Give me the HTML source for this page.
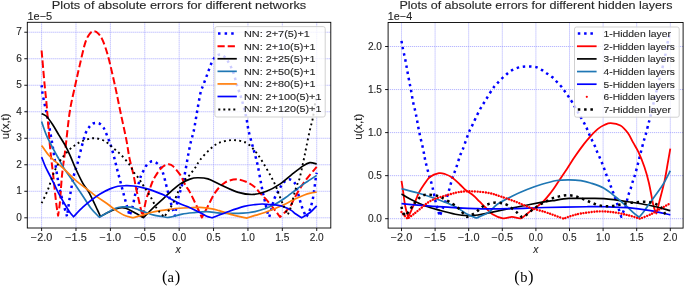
<!DOCTYPE html>
<html><head><meta charset="utf-8"><style>
html,body{margin:0;padding:0;background:#fff;width:685px;height:287px;overflow:hidden}
svg{display:block;will-change:transform}
</style></head><body>
<svg width="685" height="287" viewBox="0 0 685 287" font-family="Liberation Sans, sans-serif">
<clipPath id="cl"><rect x="27.30" y="22.30" width="303.50" height="205.70"/></clipPath>
<line x1="41.60" y1="22.30" x2="41.60" y2="228.00" stroke="#9c9cff" stroke-width="0.8" stroke-dasharray="1.1 0.9"/>
<line x1="75.99" y1="22.30" x2="75.99" y2="228.00" stroke="#9c9cff" stroke-width="0.8" stroke-dasharray="1.1 0.9"/>
<line x1="110.38" y1="22.30" x2="110.38" y2="228.00" stroke="#9c9cff" stroke-width="0.8" stroke-dasharray="1.1 0.9"/>
<line x1="144.77" y1="22.30" x2="144.77" y2="228.00" stroke="#9c9cff" stroke-width="0.8" stroke-dasharray="1.1 0.9"/>
<line x1="179.16" y1="22.30" x2="179.16" y2="228.00" stroke="#9c9cff" stroke-width="0.8" stroke-dasharray="1.1 0.9"/>
<line x1="213.55" y1="22.30" x2="213.55" y2="228.00" stroke="#9c9cff" stroke-width="0.8" stroke-dasharray="1.1 0.9"/>
<line x1="247.94" y1="22.30" x2="247.94" y2="228.00" stroke="#9c9cff" stroke-width="0.8" stroke-dasharray="1.1 0.9"/>
<line x1="282.33" y1="22.30" x2="282.33" y2="228.00" stroke="#9c9cff" stroke-width="0.8" stroke-dasharray="1.1 0.9"/>
<line x1="316.72" y1="22.30" x2="316.72" y2="228.00" stroke="#9c9cff" stroke-width="0.8" stroke-dasharray="1.1 0.9"/>
<line x1="27.30" y1="217.80" x2="330.80" y2="217.80" stroke="#9c9cff" stroke-width="0.8" stroke-dasharray="1.1 0.9"/>
<line x1="27.30" y1="191.29" x2="330.80" y2="191.29" stroke="#9c9cff" stroke-width="0.8" stroke-dasharray="1.1 0.9"/>
<line x1="27.30" y1="164.78" x2="330.80" y2="164.78" stroke="#9c9cff" stroke-width="0.8" stroke-dasharray="1.1 0.9"/>
<line x1="27.30" y1="138.27" x2="330.80" y2="138.27" stroke="#9c9cff" stroke-width="0.8" stroke-dasharray="1.1 0.9"/>
<line x1="27.30" y1="111.76" x2="330.80" y2="111.76" stroke="#9c9cff" stroke-width="0.8" stroke-dasharray="1.1 0.9"/>
<line x1="27.30" y1="85.25" x2="330.80" y2="85.25" stroke="#9c9cff" stroke-width="0.8" stroke-dasharray="1.1 0.9"/>
<line x1="27.30" y1="58.74" x2="330.80" y2="58.74" stroke="#9c9cff" stroke-width="0.8" stroke-dasharray="1.1 0.9"/>
<line x1="27.30" y1="32.23" x2="330.80" y2="32.23" stroke="#9c9cff" stroke-width="0.8" stroke-dasharray="1.1 0.9"/>
<clipPath id="cr"><rect x="388.10" y="22.50" width="295.00" height="205.60"/></clipPath>
<line x1="401.50" y1="22.50" x2="401.50" y2="228.10" stroke="#9c9cff" stroke-width="0.8" stroke-dasharray="1.1 0.9"/>
<line x1="435.10" y1="22.50" x2="435.10" y2="228.10" stroke="#9c9cff" stroke-width="0.8" stroke-dasharray="1.1 0.9"/>
<line x1="468.70" y1="22.50" x2="468.70" y2="228.10" stroke="#9c9cff" stroke-width="0.8" stroke-dasharray="1.1 0.9"/>
<line x1="502.30" y1="22.50" x2="502.30" y2="228.10" stroke="#9c9cff" stroke-width="0.8" stroke-dasharray="1.1 0.9"/>
<line x1="535.90" y1="22.50" x2="535.90" y2="228.10" stroke="#9c9cff" stroke-width="0.8" stroke-dasharray="1.1 0.9"/>
<line x1="569.50" y1="22.50" x2="569.50" y2="228.10" stroke="#9c9cff" stroke-width="0.8" stroke-dasharray="1.1 0.9"/>
<line x1="603.10" y1="22.50" x2="603.10" y2="228.10" stroke="#9c9cff" stroke-width="0.8" stroke-dasharray="1.1 0.9"/>
<line x1="636.70" y1="22.50" x2="636.70" y2="228.10" stroke="#9c9cff" stroke-width="0.8" stroke-dasharray="1.1 0.9"/>
<line x1="670.30" y1="22.50" x2="670.30" y2="228.10" stroke="#9c9cff" stroke-width="0.8" stroke-dasharray="1.1 0.9"/>
<line x1="388.10" y1="218.70" x2="683.10" y2="218.70" stroke="#9c9cff" stroke-width="0.8" stroke-dasharray="1.1 0.9"/>
<line x1="388.10" y1="175.65" x2="683.10" y2="175.65" stroke="#9c9cff" stroke-width="0.8" stroke-dasharray="1.1 0.9"/>
<line x1="388.10" y1="132.60" x2="683.10" y2="132.60" stroke="#9c9cff" stroke-width="0.8" stroke-dasharray="1.1 0.9"/>
<line x1="388.10" y1="89.55" x2="683.10" y2="89.55" stroke="#9c9cff" stroke-width="0.8" stroke-dasharray="1.1 0.9"/>
<line x1="388.10" y1="46.50" x2="683.10" y2="46.50" stroke="#9c9cff" stroke-width="0.8" stroke-dasharray="1.1 0.9"/>
<g clip-path="url(#cl)" fill="none" stroke-linejoin="round">
<path d="M41.60,85.25 C41.83,87.02 41.92,90.07 42.98,95.85 C44.03,101.64 46.55,113.00 47.93,119.98 C49.30,126.96 50.34,132.70 51.23,137.74 C52.12,142.78 52.28,143.79 53.29,150.20 C54.30,156.61 56.14,169.38 57.28,176.18 C58.43,182.98 58.97,185.77 60.17,191.02 C61.37,196.28 63.36,203.48 64.50,207.73 C65.65,211.97 66.62,215.02 67.05,216.47 L67.05,216.47 C67.51,213.25 68.97,202.42 69.80,197.12 C70.63,191.82 71.28,188.46 72.00,184.66 C72.72,180.86 73.22,177.86 74.13,174.32 C75.05,170.79 76.39,167.48 77.50,163.45 C78.62,159.43 79.52,155.06 80.80,150.20 C82.09,145.34 83.72,138.27 85.21,134.29 C86.70,130.32 88.42,128.15 89.75,126.34 C91.08,124.53 92.04,124.00 93.19,123.42 C94.33,122.85 95.48,122.81 96.62,122.89 C97.77,122.98 98.92,123.16 100.06,123.95 C101.21,124.75 102.49,126.12 103.50,127.67 C104.51,129.21 105.23,131.16 106.12,133.23 C107.00,135.31 107.98,138.00 108.80,140.13 C109.61,142.25 110.09,143.04 111.00,145.96 C111.90,148.87 113.21,153.73 114.23,157.62 C115.25,161.51 116.10,165.31 117.12,169.29 C118.14,173.26 119.30,177.46 120.35,181.48 C121.41,185.50 122.41,189.48 123.45,193.41 C124.49,197.34 125.58,201.36 126.61,205.08 C127.64,208.79 129.13,213.91 129.64,215.68 L129.64,215.68 C130.18,214.00 131.93,209.23 132.87,205.61 C133.81,201.98 134.44,197.21 135.28,193.94 C136.12,190.67 136.94,188.99 137.89,185.99 C138.84,182.98 139.99,178.57 140.99,175.91 C141.98,173.26 142.89,171.94 143.88,170.08 C144.86,168.23 145.50,166.24 146.90,164.78 C148.30,163.32 150.44,161.47 152.27,161.33 C154.09,161.20 156.30,162.66 157.84,163.98 C159.37,165.31 160.51,167.43 161.48,169.29 C162.46,171.14 162.82,172.20 163.68,175.12 C164.54,178.03 165.36,181.83 166.64,186.78 C167.93,191.73 170.21,200.61 171.39,204.81 C172.57,209.01 173.14,210.16 173.73,211.97 C174.31,213.78 174.70,215.06 174.90,215.68 L174.90,215.68 C175.38,213.07 176.78,204.50 177.78,200.04 C178.79,195.58 179.92,192.57 180.95,188.90 C181.98,185.24 183.06,182.06 183.97,178.04 C184.89,174.01 185.67,169.07 186.45,164.78 C187.23,160.49 187.87,156.34 188.65,152.32 C189.43,148.30 190.26,144.32 191.13,140.66 C192.00,136.99 192.86,135.31 193.88,130.32 C194.90,125.32 196.14,116.97 197.25,110.70 C198.36,104.43 199.55,96.91 200.55,92.67 C201.55,88.43 202.10,88.34 203.23,85.25 C204.37,82.16 205.94,77.92 207.36,74.12 C208.78,70.32 210.39,65.37 211.76,62.45 C213.14,59.54 214.11,57.94 215.61,56.62 C217.12,55.29 219.05,54.23 220.77,54.50 C222.49,54.76 224.53,56.71 225.93,58.21 C227.33,59.71 227.96,61.21 229.16,63.51 C230.37,65.81 231.80,68.24 233.15,72.00 C234.50,75.75 235.85,81.45 237.28,86.05 C238.71,90.64 240.25,94.31 241.75,99.57 C243.25,104.82 245.17,112.47 246.29,117.59 C247.41,122.72 247.55,125.99 248.49,130.32 C249.43,134.65 250.90,139.73 251.93,143.57 C252.96,147.42 253.74,149.85 254.68,153.38 C255.62,156.92 256.63,160.45 257.57,164.78 C258.51,169.11 259.53,175.16 260.32,179.36 C261.11,183.56 261.57,186.39 262.32,189.96 C263.06,193.54 263.87,196.86 264.79,200.83 C265.71,204.81 267.07,211.13 267.82,213.82 C268.56,216.52 269.02,216.47 269.26,217.00 L269.26,217.00 C269.72,215.28 271.14,209.76 272.01,206.67 C272.88,203.57 273.56,200.83 274.49,198.45 C275.42,196.06 276.56,194.29 277.58,192.35 C278.60,190.41 279.66,188.42 280.61,186.78 C281.56,185.15 281.91,183.78 283.29,182.54 C284.68,181.30 287.05,179.32 288.93,179.36 C290.81,179.40 293.09,180.60 294.57,182.81 C296.05,185.02 296.69,188.95 297.81,192.62 C298.92,196.28 300.20,201.54 301.24,204.81 C302.29,208.08 303.20,210.20 304.06,212.23 C304.92,214.27 306.01,216.21 306.40,217.00 L306.40,217.00 C306.98,215.81 308.81,212.67 309.84,209.85 C310.87,207.02 311.81,203.75 312.59,200.04 C313.37,196.33 313.95,191.60 314.52,187.58 C315.09,183.56 315.67,178.39 316.03,175.91 C316.40,173.44 316.61,173.26 316.72,172.73" stroke="#0000ff" stroke-width="2.5" stroke-dasharray="2.5 3.75" stroke-linecap="butt"/>
<path d="M41.60,50.52 C42.10,56.27 43.76,75.57 44.63,84.98 C45.50,94.40 45.91,96.47 46.83,106.99 C47.74,117.50 49.06,136.68 50.13,148.08 C51.19,159.48 52.24,166.41 53.22,175.38 C54.21,184.35 55.23,195.18 56.04,201.89 C56.86,208.61 57.76,213.38 58.11,215.68 L58.11,215.68 C58.42,213.38 59.30,208.79 59.96,201.89 C60.63,195.00 61.19,183.16 62.10,174.32 C63.00,165.49 64.11,159.35 65.40,148.87 C66.68,138.40 68.15,122.14 69.80,111.49 C71.45,100.85 73.65,92.67 75.30,84.98 C76.95,77.30 78.05,72.39 79.70,65.37 C81.35,58.34 83.53,48.09 85.21,42.83 C86.88,37.58 88.28,35.76 89.75,33.82 C91.21,31.88 92.58,31.21 94.01,31.17 C95.44,31.13 96.88,31.96 98.34,33.56 C99.81,35.15 101.15,36.78 102.81,40.71 C104.48,44.65 106.31,49.77 108.32,57.15 C110.32,64.53 112.84,75.93 114.85,84.98 C116.86,94.04 118.43,102.30 120.35,111.49 C122.28,120.69 124.90,132.44 126.41,140.13 C127.91,147.81 128.17,151.79 129.36,157.62 C130.56,163.45 132.47,170.13 133.56,175.12 C134.65,180.11 135.12,183.82 135.90,187.58 C136.68,191.33 137.46,194.25 138.24,197.65 C139.02,201.05 139.83,204.77 140.57,207.99 C141.32,211.22 142.35,215.50 142.71,217.00 L142.71,217.00 C143.27,214.18 144.99,204.41 146.08,200.04 C147.17,195.66 148.20,193.76 149.24,190.76 C150.28,187.76 151.29,184.49 152.34,182.01 C153.38,179.54 154.12,178.12 155.50,175.91 C156.88,173.71 159.10,170.48 160.59,168.76 C162.08,167.03 163.07,166.33 164.44,165.58 C165.82,164.82 167.38,164.12 168.84,164.25 C170.31,164.38 171.28,164.51 173.24,166.37 C175.21,168.23 178.85,172.78 180.60,175.38 C182.36,177.99 182.73,179.98 183.77,182.01 C184.81,184.04 185.83,185.86 186.86,187.58 C187.90,189.30 188.19,188.99 189.96,192.35 C191.72,195.71 195.47,203.53 197.46,207.73 C199.44,211.92 201.12,215.90 201.86,217.53 L201.86,217.53 C202.82,215.72 205.40,210.86 207.63,206.67 C209.87,202.47 212.39,196.37 215.27,192.35 C218.15,188.33 221.29,184.71 224.90,182.54 C228.51,180.38 233.09,179.36 236.94,179.36 C240.78,179.36 244.93,181.22 247.94,182.54 C250.95,183.87 253.03,185.59 255.02,187.31 C257.02,189.04 258.28,191.11 259.91,192.88 C261.54,194.65 262.96,195.89 264.79,197.92 C266.63,199.95 269.09,202.87 270.91,205.08 C272.74,207.28 274.21,209.18 275.73,211.17 C277.24,213.16 279.28,216.03 279.99,217.00 L279.99,217.00 C280.91,216.12 283.98,213.25 285.49,211.70 C287.01,210.16 288.05,209.01 289.07,207.73 C290.09,206.44 290.70,205.65 291.62,204.01 C292.53,202.38 293.24,200.39 294.57,197.92 C295.90,195.44 297.47,192.48 299.59,189.17 C301.71,185.86 304.44,181.75 307.30,178.04 C310.15,174.32 315.15,168.76 316.72,166.90" stroke="#ff0000" stroke-width="2.0" stroke-dasharray="7.2 3.0"/>
<path d="M41.60,113.62 C42.40,114.06 44.58,114.46 46.41,116.27 C48.25,118.08 50.52,121.35 52.60,124.48 C54.69,127.62 56.83,131.60 58.93,135.09 C61.03,138.58 63.29,141.94 65.19,145.43 C67.09,148.92 68.62,152.19 70.35,156.03 C72.08,159.88 73.49,163.94 75.58,168.49 C77.66,173.04 80.62,179.32 82.87,183.34 C85.11,187.36 86.65,188.24 89.06,192.62 C91.47,196.99 95.42,205.61 97.31,209.58 C99.20,213.56 99.89,215.33 100.41,216.47 L100.41,216.47 C102.07,215.59 107.20,212.59 110.38,211.17 C113.56,209.76 116.90,208.48 119.46,207.99 C122.02,207.51 123.37,207.59 125.72,208.26 C128.07,208.92 131.33,210.82 133.56,211.97 C135.78,213.12 137.42,214.22 139.06,215.15 C140.70,216.08 142.67,217.14 143.39,217.53 L143.39,217.53 C144.11,216.83 145.64,215.28 147.66,213.29 C149.68,211.31 152.62,208.30 155.50,205.61 C158.38,202.91 162.06,199.73 164.92,197.12 C167.79,194.52 170.08,192.22 172.69,189.96 C175.31,187.71 177.73,185.41 180.60,183.60 C183.48,181.79 187.15,180.07 189.96,179.10 C192.77,178.12 194.45,177.81 197.46,177.77 C200.46,177.73 204.15,177.68 207.98,178.83 C211.81,179.98 215.37,182.41 220.43,184.66 C225.48,186.92 232.81,190.72 238.31,192.35 C243.81,193.99 248.74,194.65 253.44,194.47 C258.14,194.29 262.04,193.06 266.51,191.29 C270.98,189.52 276.07,186.65 280.27,183.87 C284.46,181.08 287.87,177.59 291.68,174.59 C295.50,171.58 300.14,167.83 303.17,165.84 C306.20,163.85 307.58,162.97 309.84,162.66 C312.10,162.35 315.57,163.76 316.72,163.98" stroke="#000000" stroke-width="1.7"/>
<path d="M41.60,121.57 C42.40,123.82 44.58,130.76 46.41,135.09 C48.25,139.42 50.52,143.53 52.60,147.55 C54.69,151.57 57.02,155.72 58.93,159.21 C60.85,162.70 61.82,164.91 64.09,168.49 C66.36,172.07 69.65,176.44 72.55,180.69 C75.45,184.93 78.40,189.30 81.49,193.94 C84.59,198.58 88.14,204.63 91.12,208.52 C94.10,212.41 98.00,215.81 99.38,217.27 L99.38,217.27 C101.21,216.21 107.56,212.45 110.38,210.91 C113.20,209.36 114.27,208.65 116.30,207.99 C118.32,207.33 120.20,207.06 122.55,206.93 C124.90,206.80 127.78,206.75 130.39,207.20 C133.01,207.64 135.62,208.70 138.24,209.58 C140.85,210.47 143.46,211.57 146.08,212.50 C148.69,213.43 151.30,214.49 153.92,215.15 C156.53,215.81 159.50,216.08 161.76,216.47 C164.02,216.87 166.52,217.36 167.47,217.53 L167.47,217.53 C168.60,217.31 171.82,216.78 174.28,216.21 C176.73,215.64 179.08,214.66 182.19,214.09 C185.29,213.51 188.84,213.16 192.92,212.76 C197.00,212.37 202.09,211.66 206.67,211.70 C211.26,211.75 215.15,212.76 220.43,213.03 C225.70,213.29 233.73,213.34 238.31,213.29 C242.90,213.25 245.15,213.03 247.94,212.76 C250.73,212.50 252.22,212.37 255.02,211.70 C257.83,211.04 261.55,209.98 264.79,208.79 C268.04,207.59 271.23,206.27 274.49,204.55 C277.74,202.82 280.91,200.79 284.32,198.45 C287.74,196.11 291.80,192.88 294.99,190.49 C298.17,188.11 300.97,185.90 303.45,184.13 C305.92,182.36 307.63,181.35 309.84,179.89 C312.05,178.43 315.57,176.14 316.72,175.38" stroke="#1f77b4" stroke-width="1.7"/>
<path d="M41.60,145.43 C42.75,147.02 45.96,152.10 48.48,154.97 C51.00,157.84 53.95,160.14 56.73,162.66 C59.52,165.18 61.98,167.08 65.19,170.08 C68.40,173.09 72.59,177.68 75.99,180.69 C79.39,183.69 82.18,185.46 85.62,188.11 C89.06,190.76 93.14,194.07 96.62,196.59 C100.11,199.11 103.48,201.05 106.53,203.22 C109.58,205.38 111.98,207.59 114.92,209.58 C117.85,211.57 121.14,213.78 124.14,215.15 C127.13,216.52 131.42,217.36 132.87,217.80 L132.87,217.80 C134.29,217.40 138.41,216.30 141.40,215.41 C144.39,214.53 147.69,213.29 150.82,212.50 C153.95,211.70 157.06,211.17 160.18,210.64 C163.29,210.11 166.37,209.71 169.53,209.32 C172.69,208.92 175.76,208.52 179.16,208.26 C182.56,207.99 186.52,207.86 189.96,207.73 C193.40,207.59 196.11,207.28 199.79,207.46 C203.47,207.64 208.80,208.26 212.04,208.79 C215.27,209.32 215.45,209.54 219.19,210.64 C222.93,211.75 229.84,214.18 234.46,215.41 C239.08,216.65 244.83,217.62 246.91,218.07 L246.91,218.07 C248.26,217.62 252.04,216.34 255.02,215.41 C258.00,214.49 261.55,213.60 264.79,212.50 C268.04,211.39 271.23,210.11 274.49,208.79 C277.74,207.46 280.91,206.18 284.32,204.55 C287.74,202.91 291.65,200.57 294.99,198.98 C298.32,197.39 301.77,195.97 304.34,195.00 C306.91,194.03 308.33,193.63 310.39,193.15 C312.46,192.66 315.67,192.26 316.72,192.09" stroke="#ff7f0e" stroke-width="1.7"/>
<path d="M41.60,157.09 C42.29,158.82 44.12,163.94 45.73,167.43 C47.33,170.92 49.12,173.79 51.23,178.04 C53.34,182.28 56.09,188.46 58.38,192.88 C60.67,197.30 63.20,201.50 64.99,204.55 C66.77,207.59 67.70,209.14 69.11,211.17 C70.52,213.20 72.72,215.81 73.45,216.74 L73.45,216.74 C75.02,215.15 80.15,209.76 82.87,207.20 C85.58,204.63 86.88,203.57 89.75,201.36 C92.61,199.15 96.60,196.06 100.06,193.94 C103.52,191.82 107.55,189.92 110.52,188.64 C113.49,187.36 115.34,186.74 117.88,186.25 C120.41,185.77 123.10,185.77 125.72,185.72 C128.33,185.68 130.95,185.72 133.56,185.99 C136.17,186.25 138.79,186.74 141.40,187.31 C144.01,187.89 146.63,188.59 149.24,189.43 C151.85,190.27 154.47,191.33 157.08,192.35 C159.70,193.37 162.32,194.25 164.92,195.53 C167.52,196.81 170.08,198.62 172.69,200.04 C175.31,201.45 177.73,202.73 180.60,204.01 C183.48,205.30 186.76,206.31 189.96,207.73 C193.16,209.14 197.01,211.08 199.79,212.50 C202.58,213.91 204.61,215.33 206.67,216.21 C208.74,217.09 211.26,217.53 212.17,217.80 L212.17,217.80 C214.93,216.74 223.36,213.34 228.68,211.44 C234.00,209.54 239.70,207.55 244.09,206.40 C248.48,205.25 251.99,204.94 255.02,204.55 C258.06,204.15 259.88,204.01 262.32,204.01 C264.75,204.01 267.15,204.37 269.61,204.55 C272.06,204.72 274.58,204.68 277.03,205.08 C279.49,205.47 281.89,206.00 284.32,206.93 C286.75,207.86 289.84,209.54 291.62,210.64 C293.39,211.75 293.30,212.37 294.99,213.56 C296.67,214.75 300.60,217.09 301.73,217.80 L301.73,217.80 C303.12,216.92 307.62,214.49 310.12,212.50 C312.62,210.51 315.62,206.98 316.72,205.87" stroke="#0000ff" stroke-width="1.7"/>
<path d="M41.60,203.22 C42.63,201.01 45.85,194.78 47.79,189.96 C49.73,185.15 51.21,179.14 53.22,174.32 C55.24,169.51 57.56,164.82 59.90,161.07 C62.23,157.31 64.80,154.40 67.25,151.79 C69.71,149.18 72.16,147.20 74.61,145.43 C77.07,143.66 79.03,142.38 81.97,141.19 C84.92,139.99 89.17,138.58 92.29,138.27 C95.41,137.96 98.24,138.62 100.68,139.33 C103.12,140.04 105.22,141.36 106.94,142.51 C108.66,143.66 109.11,144.59 111.00,146.22 C112.89,147.86 115.97,150.20 118.29,152.32 C120.61,154.44 122.83,156.61 124.89,158.95 C126.96,161.29 129.19,164.16 130.67,166.37 C132.15,168.58 132.53,170.35 133.77,172.20 C135.00,174.06 136.46,175.21 138.10,177.50 C139.74,179.80 141.50,182.72 143.60,185.99 C145.70,189.26 148.46,193.32 150.69,197.12 C152.91,200.92 155.25,206.09 156.94,208.79 C158.64,211.48 159.68,211.92 160.86,213.29 C162.05,214.66 163.50,216.39 164.03,217.00 L164.03,217.00 C164.82,215.90 167.07,213.07 168.77,210.38 C170.48,207.68 172.57,204.24 174.28,200.83 C175.98,197.43 177.44,193.23 179.02,189.96 C180.60,186.69 182.05,183.65 183.77,181.22 C185.49,178.79 187.44,177.64 189.34,175.38 C191.24,173.13 193.41,170.26 195.19,167.70 C196.96,165.13 197.60,163.01 200.00,160.01 C202.40,157.00 206.36,152.54 209.56,149.67 C212.76,146.80 215.35,144.37 219.19,142.78 C223.03,141.19 228.13,140.13 232.60,140.13 C237.07,140.13 242.20,140.88 246.01,142.78 C249.83,144.68 252.64,148.17 255.51,151.53 C258.37,154.88 260.64,158.77 263.21,162.92 C265.78,167.08 268.85,172.64 270.91,176.44 C272.98,180.24 274.32,182.90 275.59,185.72 C276.86,188.55 277.42,190.54 278.55,193.41 C279.67,196.28 281.06,199.95 282.33,202.95 C283.60,205.96 285.26,209.49 286.18,211.44 C287.10,213.38 287.56,214.09 287.83,214.62 L287.83,214.62 C288.36,213.29 289.99,209.89 291.00,206.67 C292.01,203.44 292.93,198.76 293.89,195.27 C294.84,191.78 295.75,188.55 296.71,185.72 C297.66,182.90 298.47,182.41 299.59,178.30 C300.72,174.19 302.33,166.24 303.45,161.07 C304.56,155.90 305.23,152.28 306.27,147.28 C307.30,142.29 308.52,136.06 309.64,131.11 C310.75,126.16 311.99,122.50 312.94,117.59 C313.89,112.69 314.71,105.31 315.34,101.69 C315.97,98.06 316.49,96.83 316.72,95.85" stroke="#000000" stroke-width="1.9" stroke-dasharray="1.9 3.2"/>
</g>
<g clip-path="url(#cr)" fill="none" stroke-linejoin="round">
<path d="M401.50,40.90 C401.67,41.92 401.89,43.97 402.51,47.02 C403.12,50.06 404.38,55.08 405.20,59.16 C406.01,63.23 406.67,67.44 407.41,71.47 C408.15,75.50 409.05,80.34 409.63,83.35 C410.21,86.36 410.35,86.51 410.91,89.55 C411.47,92.59 412.16,97.54 412.99,101.60 C413.82,105.67 414.85,108.89 415.88,113.92 C416.91,118.94 417.95,125.81 419.17,131.74 C420.39,137.67 422.16,144.57 423.21,149.48 C424.25,154.38 424.50,157.10 425.42,161.19 C426.34,165.27 427.58,169.88 428.72,174.01 C429.85,178.15 431.01,181.16 432.21,185.98 C433.41,190.80 434.64,197.92 435.91,202.94 C437.17,207.97 439.15,213.92 439.80,216.12 L439.80,216.12 C441.04,212.80 445.15,202.38 447.20,196.23 C449.25,190.07 450.60,183.93 452.10,179.18 C453.60,174.43 454.90,171.59 456.20,167.73 C457.50,163.87 458.81,159.06 459.90,156.02 C460.98,152.98 461.25,153.35 462.72,149.48 C464.19,145.60 467.22,136.55 468.70,132.77 C470.18,129.00 469.81,130.55 471.59,126.83 C473.37,123.11 476.97,115.05 479.38,110.47 C481.80,105.89 483.89,103.00 486.10,99.37 C488.32,95.73 490.95,91.24 492.69,88.69 C494.43,86.13 495.13,85.60 496.52,84.04 C497.91,82.48 499.49,80.81 501.02,79.30 C502.56,77.80 504.14,76.38 505.73,75.00 C507.32,73.62 508.72,72.19 510.57,71.04 C512.41,69.89 514.78,68.84 516.82,68.11 C518.85,67.38 520.75,66.93 522.80,66.65 C524.85,66.36 526.90,66.30 529.11,66.39 C531.33,66.48 533.95,66.55 536.10,67.16 C538.25,67.78 540.14,69.00 542.02,70.09 C543.89,71.18 545.58,72.50 547.32,73.71 C549.07,74.91 550.89,75.95 552.50,77.32 C554.11,78.70 555.53,80.44 557.00,81.97 C558.47,83.51 559.97,84.93 561.30,86.54 C562.63,88.14 563.80,89.94 565.00,91.62 C566.20,93.30 567.30,94.86 568.49,96.61 C569.68,98.36 570.50,99.42 572.12,102.12 C573.74,104.82 576.18,109.20 578.24,112.80 C580.30,116.40 583.00,121.01 584.49,123.73 C585.98,126.46 586.31,127.25 587.17,129.16 C588.04,131.06 588.81,133.26 589.66,135.18 C590.51,137.11 591.40,138.84 592.28,140.69 C593.17,142.54 594.15,144.41 594.97,146.29 C595.79,148.17 596.38,150.06 597.19,151.97 C597.99,153.88 598.97,155.82 599.81,157.74 C600.65,159.66 601.46,161.60 602.23,163.51 C602.99,165.42 603.66,167.24 604.38,169.19 C605.09,171.14 605.79,173.35 606.53,175.22 C607.27,177.08 608.12,178.59 608.81,180.39 C609.51,182.18 610.00,184.04 610.69,185.98 C611.39,187.92 612.23,190.00 612.98,192.01 C613.73,194.02 614.49,196.04 615.20,198.04 C615.90,200.03 616.57,201.98 617.21,203.98 C617.85,205.97 618.35,207.88 619.03,210.00 C619.70,212.13 620.87,215.60 621.24,216.72 L621.24,216.72 C621.60,215.84 622.66,213.33 623.39,211.47 C624.13,209.60 625.04,207.52 625.68,205.53 C626.32,203.53 626.72,201.39 627.22,199.50 C627.73,197.61 628.14,195.91 628.70,194.16 C629.26,192.41 629.97,190.93 630.58,189.00 C631.20,187.06 631.72,184.72 632.40,182.54 C633.08,180.36 633.80,178.88 634.68,175.91 C635.57,172.94 636.70,168.59 637.71,164.72 C638.72,160.84 639.74,156.58 640.73,152.66 C641.73,148.74 642.87,144.17 643.69,141.21 C644.51,138.25 644.82,137.92 645.64,134.92 C646.46,131.93 647.84,126.09 648.59,123.22 C649.34,120.35 649.46,120.45 650.14,117.70 C650.82,114.96 651.57,111.46 652.69,106.77 C653.81,102.08 654.99,97.06 656.86,89.55 C658.73,82.04 662.37,68.25 663.92,61.74 C665.46,55.22 665.38,54.34 666.13,50.46 C666.88,46.59 667.72,41.59 668.42,38.49 C669.11,35.39 669.99,32.97 670.30,31.86" stroke="#0000ff" stroke-width="2.5" stroke-dasharray="2.5 3.75" stroke-linecap="butt"/>
<path d="M401.50,180.82 C401.75,182.39 402.36,186.10 402.98,190.29 C403.59,194.48 404.32,201.47 405.20,205.96 C406.07,210.45 407.72,215.36 408.22,217.24 L408.22,217.24 C408.85,215.86 410.61,212.10 411.98,208.97 C413.36,205.84 415.37,201.12 416.49,198.47 C417.61,195.81 417.45,195.37 418.70,193.04 C419.96,190.72 422.14,187.19 424.01,184.52 C425.88,181.85 427.44,178.91 429.93,177.03 C432.41,175.15 436.43,173.74 438.93,173.24 C441.43,172.74 442.67,173.27 444.91,174.01 C447.15,174.76 449.87,175.97 452.37,177.72 C454.87,179.47 457.65,182.42 459.90,184.52 C462.15,186.61 463.63,188.46 465.88,190.29 C468.13,192.11 471.14,193.59 473.40,195.45 C475.67,197.32 477.45,199.47 479.45,201.48 C481.46,203.49 483.26,205.38 485.43,207.51 C487.61,209.63 489.57,212.43 492.49,214.22 C495.41,216.02 499.72,217.84 502.97,218.27 C506.22,218.70 508.98,216.81 511.98,216.81 C514.98,216.81 518.26,218.96 520.98,218.27 C523.70,217.58 525.82,214.47 528.31,212.67 C530.79,210.88 533.39,209.37 535.90,207.51 C538.41,205.64 540.86,203.98 543.36,201.48 C545.86,198.98 548.75,195.27 550.89,192.53 C553.02,189.78 554.45,187.59 556.19,185.03 C557.94,182.48 559.50,180.01 561.37,177.20 C563.24,174.39 565.04,171.76 567.42,168.16 C569.79,164.56 572.87,159.59 575.62,155.59 C578.36,151.59 581.34,147.42 583.88,144.14 C586.42,140.85 588.53,138.41 590.87,135.87 C593.21,133.33 595.61,130.75 597.93,128.90 C600.24,127.05 602.65,125.73 604.78,124.76 C606.91,123.80 608.08,123.01 610.69,123.13 C613.30,123.24 617.57,123.80 620.44,125.45 C623.30,127.10 625.77,130.16 627.90,133.03 C630.02,135.90 631.46,139.52 633.21,142.67 C634.95,145.83 636.51,147.91 638.38,151.97 C640.25,156.03 642.67,161.87 644.43,167.04 C646.19,172.21 647.43,176.55 648.93,182.97 C650.43,189.38 652.19,200.43 653.43,205.53 C654.68,210.62 655.90,212.20 656.39,213.53 L656.39,213.53 C656.89,211.52 658.05,206.93 659.41,201.48 C660.78,196.03 663.22,187.06 664.59,180.82 C665.95,174.57 666.66,169.38 667.61,164.03 C668.56,158.67 669.85,151.25 670.30,148.70" stroke="#ff0000" stroke-width="1.8"/>
<path d="M401.50,193.99 C403.00,194.86 406.52,197.23 410.50,199.24 C414.49,201.25 420.44,204.16 425.42,206.04 C430.41,207.92 435.41,209.16 440.41,210.52 C445.40,211.88 450.89,213.36 455.39,214.22 C459.90,215.08 463.67,215.56 467.42,215.69 C471.18,215.82 474.14,215.50 477.91,215.00 C481.67,214.50 485.07,213.68 490.00,212.67 C494.93,211.67 500.83,210.33 507.47,208.97 C514.12,207.61 522.37,205.87 529.85,204.49 C537.33,203.12 545.86,201.71 552.36,200.71 C558.87,199.70 563.13,198.84 568.90,198.47 C574.66,198.09 581.13,198.42 586.97,198.47 C592.82,198.51 597.15,198.18 603.97,198.72 C610.79,199.27 620.16,200.60 627.90,201.74 C635.64,202.87 643.34,204.03 650.41,205.53 C657.48,207.02 666.98,209.83 670.30,210.69" stroke="#000000" stroke-width="1.7"/>
<path d="M401.50,188.74 C404.26,189.45 412.80,191.55 418.03,193.04 C423.26,194.53 428.40,196.17 432.88,197.69 C437.36,199.21 440.91,200.53 444.91,202.17 C448.91,203.80 453.12,205.50 456.87,207.51 C460.62,209.52 464.16,212.47 467.42,214.22 C470.68,215.97 474.93,217.38 476.43,218.01 L476.43,218.01 C477.67,217.48 481.62,215.93 483.89,214.83 C486.15,213.72 487.82,213.10 490.00,211.38 C492.19,209.66 493.33,207.02 496.99,204.49 C500.65,201.97 506.97,198.72 511.98,196.23 C516.98,193.73 522.05,191.51 527.03,189.51 C532.01,187.52 536.90,185.77 541.88,184.26 C546.86,182.75 552.43,181.22 556.93,180.47 C561.44,179.73 564.90,179.75 568.90,179.78 C572.89,179.81 577.32,180.11 580.92,180.64 C584.53,181.17 586.69,181.71 590.53,182.97 C594.38,184.23 599.73,185.85 603.97,188.22 C608.22,190.59 612.26,194.18 616.00,197.17 C619.74,200.17 623.44,203.58 626.42,206.22 C629.40,208.86 631.75,211.18 633.88,213.02 C636.01,214.85 638.30,216.53 639.19,217.24 L639.19,217.24 C640.06,216.15 642.31,213.53 644.43,210.69 C646.54,207.85 649.39,203.69 651.89,200.19 C654.38,196.69 657.41,192.55 659.41,189.68 C661.42,186.81 662.10,186.13 663.92,182.97 C665.73,179.81 669.24,172.78 670.30,170.74" stroke="#1f77b4" stroke-width="1.7"/>
<path d="M401.50,203.72 C404.26,203.96 412.80,204.75 418.03,205.18 C423.26,205.61 427.91,205.97 432.88,206.30 C437.86,206.63 442.86,206.85 447.87,207.16 C452.87,207.48 457.91,207.94 462.92,208.20 C467.93,208.45 473.39,208.58 477.91,208.71 C482.42,208.84 483.82,209.00 490.00,208.97 C496.18,208.94 505.85,208.78 515.00,208.54 C524.15,208.30 532.91,207.81 544.90,207.51 C556.90,207.21 576.87,206.86 586.97,206.73 C597.07,206.60 598.70,206.57 605.52,206.73 C612.34,206.89 620.42,207.02 627.90,207.68 C635.38,208.34 643.34,209.50 650.41,210.69 C657.48,211.88 666.98,214.14 670.30,214.83" stroke="#0000ff" stroke-width="1.7"/>
<path d="M401.50,211.98 C402.00,212.60 403.53,214.57 404.52,215.69 C405.52,216.81 406.99,218.20 407.48,218.70 L407.48,218.70 C408.49,217.95 411.28,215.97 413.53,214.22 C415.78,212.47 418.51,210.20 420.99,208.20 C423.46,206.19 425.89,203.79 428.38,202.17 C430.87,200.55 433.40,199.46 435.91,198.47 C438.42,197.48 440.94,196.97 443.43,196.23 C445.93,195.48 448.39,194.66 450.89,193.99 C453.39,193.31 455.66,192.63 458.42,192.18 C461.17,191.74 464.18,191.41 467.42,191.32 C470.67,191.23 474.14,191.35 477.91,191.66 C481.67,191.98 486.32,192.45 490.00,193.21 C493.69,193.97 495.85,194.85 500.02,196.23 C504.18,197.61 510.03,199.60 515.00,201.48 C519.97,203.36 524.87,205.76 529.85,207.51 C534.84,209.26 540.65,210.62 544.90,211.98 C549.16,213.35 552.27,214.57 555.39,215.69 C558.50,216.81 562.22,218.20 563.59,218.70 L563.59,218.70 C564.98,218.20 569.03,216.55 571.92,215.69 C574.81,214.83 576.58,214.24 580.92,213.53 C585.27,212.83 592.65,211.68 597.99,211.47 C603.34,211.25 607.99,211.63 612.98,212.24 C617.96,212.86 623.41,214.09 627.90,215.17 C632.39,216.25 637.92,218.11 639.93,218.70 L639.93,218.70 C641.67,218.00 646.91,216.17 650.41,214.48 C653.90,212.79 657.58,210.42 660.89,208.54 C664.21,206.66 668.73,204.09 670.30,203.20" stroke="#ff0000" stroke-width="2.4" stroke-dasharray="0.01 2.7" stroke-linecap="round"/>
<path d="M401.50,206.73 C401.75,207.72 402.25,211.18 402.98,212.67 C403.71,214.17 405.39,215.18 405.87,215.69 L405.87,215.69 C406.64,214.57 409.12,210.97 410.50,208.97 C411.89,206.98 412.95,205.34 414.20,203.72 C415.46,202.10 416.65,200.62 418.03,199.24 C419.41,197.86 420.74,196.21 422.47,195.45 C424.19,194.69 426.25,194.68 428.38,194.68 C430.51,194.68 432.98,194.95 435.23,195.45 C437.49,195.96 439.03,196.31 441.89,197.69 C444.74,199.07 449.74,202.08 452.37,203.72 C455.00,205.35 456.06,206.09 457.68,207.51 C459.30,208.93 460.84,210.88 462.11,212.24 C463.39,213.61 464.47,214.90 465.34,215.69 C466.21,216.48 467.02,216.76 467.36,216.98 L467.36,216.98 C468.23,216.55 470.97,215.36 472.60,214.39 C474.22,213.43 475.46,212.49 477.10,211.21 C478.74,209.93 480.59,207.89 482.41,206.73 C484.22,205.57 486.06,204.91 487.99,204.24 C489.91,203.56 491.85,202.89 493.97,202.69 C496.08,202.48 498.44,202.61 500.69,203.03 C502.94,203.45 504.72,203.58 507.47,205.18 C510.23,206.79 514.83,210.66 517.22,212.67 C519.60,214.68 521.03,216.48 521.79,217.24 L521.79,217.24 C522.54,216.86 524.68,216.12 526.29,215.00 C527.90,213.88 529.72,211.90 531.46,210.52 C533.21,209.14 534.90,207.98 536.77,206.73 C538.64,205.48 540.83,204.03 542.69,203.03 C544.55,202.03 546.06,201.59 547.93,200.71 C549.80,199.82 551.92,198.44 553.91,197.69 C555.90,196.95 557.77,196.64 559.89,196.23 C562.01,195.81 564.36,195.27 566.61,195.19 C568.86,195.12 571.27,195.38 573.40,195.80 C575.53,196.21 577.37,196.99 579.38,197.69 C581.38,198.39 583.46,199.21 585.43,200.02 C587.40,200.82 589.25,201.72 591.21,202.51 C593.17,203.30 595.06,204.13 597.19,204.75 C599.31,205.37 601.72,205.97 603.97,206.22 C606.22,206.46 608.44,206.39 610.69,206.22 C612.94,206.04 615.36,205.56 617.48,205.18 C619.60,204.81 621.28,204.38 623.39,203.98 C625.51,203.58 628.04,203.07 630.18,202.77 C632.32,202.47 634.11,202.34 636.23,202.17 C638.35,202.00 640.64,201.74 642.88,201.74 C645.12,201.74 647.55,201.80 649.67,202.17 C651.79,202.54 653.71,203.12 655.58,203.98 C657.45,204.84 659.39,205.83 660.89,207.33 C662.39,208.84 663.39,211.52 664.59,213.02 C665.79,214.51 667.50,215.74 668.08,216.29" stroke="#000000" stroke-width="2.5" stroke-dasharray="2.5 3.75"/>
</g>
<rect x="27.30" y="22.30" width="303.50" height="205.70" fill="none" stroke="#000" stroke-width="0.9"/>
<line x1="41.60" y1="228.00" x2="41.60" y2="231.00" stroke="#000" stroke-width="0.9"/>
<line x1="75.99" y1="228.00" x2="75.99" y2="231.00" stroke="#000" stroke-width="0.9"/>
<line x1="110.38" y1="228.00" x2="110.38" y2="231.00" stroke="#000" stroke-width="0.9"/>
<line x1="144.77" y1="228.00" x2="144.77" y2="231.00" stroke="#000" stroke-width="0.9"/>
<line x1="179.16" y1="228.00" x2="179.16" y2="231.00" stroke="#000" stroke-width="0.9"/>
<line x1="213.55" y1="228.00" x2="213.55" y2="231.00" stroke="#000" stroke-width="0.9"/>
<line x1="247.94" y1="228.00" x2="247.94" y2="231.00" stroke="#000" stroke-width="0.9"/>
<line x1="282.33" y1="228.00" x2="282.33" y2="231.00" stroke="#000" stroke-width="0.9"/>
<line x1="316.72" y1="228.00" x2="316.72" y2="231.00" stroke="#000" stroke-width="0.9"/>
<line x1="24.30" y1="217.80" x2="27.30" y2="217.80" stroke="#000" stroke-width="0.9"/>
<line x1="24.30" y1="191.29" x2="27.30" y2="191.29" stroke="#000" stroke-width="0.9"/>
<line x1="24.30" y1="164.78" x2="27.30" y2="164.78" stroke="#000" stroke-width="0.9"/>
<line x1="24.30" y1="138.27" x2="27.30" y2="138.27" stroke="#000" stroke-width="0.9"/>
<line x1="24.30" y1="111.76" x2="27.30" y2="111.76" stroke="#000" stroke-width="0.9"/>
<line x1="24.30" y1="85.25" x2="27.30" y2="85.25" stroke="#000" stroke-width="0.9"/>
<line x1="24.30" y1="58.74" x2="27.30" y2="58.74" stroke="#000" stroke-width="0.9"/>
<line x1="24.30" y1="32.23" x2="27.30" y2="32.23" stroke="#000" stroke-width="0.9"/>
<rect x="388.10" y="22.50" width="295.00" height="205.60" fill="none" stroke="#000" stroke-width="0.9"/>
<line x1="401.50" y1="228.10" x2="401.50" y2="231.10" stroke="#000" stroke-width="0.9"/>
<line x1="435.10" y1="228.10" x2="435.10" y2="231.10" stroke="#000" stroke-width="0.9"/>
<line x1="468.70" y1="228.10" x2="468.70" y2="231.10" stroke="#000" stroke-width="0.9"/>
<line x1="502.30" y1="228.10" x2="502.30" y2="231.10" stroke="#000" stroke-width="0.9"/>
<line x1="535.90" y1="228.10" x2="535.90" y2="231.10" stroke="#000" stroke-width="0.9"/>
<line x1="569.50" y1="228.10" x2="569.50" y2="231.10" stroke="#000" stroke-width="0.9"/>
<line x1="603.10" y1="228.10" x2="603.10" y2="231.10" stroke="#000" stroke-width="0.9"/>
<line x1="636.70" y1="228.10" x2="636.70" y2="231.10" stroke="#000" stroke-width="0.9"/>
<line x1="670.30" y1="228.10" x2="670.30" y2="231.10" stroke="#000" stroke-width="0.9"/>
<line x1="385.10" y1="218.70" x2="388.10" y2="218.70" stroke="#000" stroke-width="0.9"/>
<line x1="385.10" y1="175.65" x2="388.10" y2="175.65" stroke="#000" stroke-width="0.9"/>
<line x1="385.10" y1="132.60" x2="388.10" y2="132.60" stroke="#000" stroke-width="0.9"/>
<line x1="385.10" y1="89.55" x2="388.10" y2="89.55" stroke="#000" stroke-width="0.9"/>
<line x1="385.10" y1="46.50" x2="388.10" y2="46.50" stroke="#000" stroke-width="0.9"/>
<rect x="214.90" y="26.60" width="110.30" height="90.40" rx="2" ry="2" fill="#fff" fill-opacity="0.8" stroke="#cccccc" stroke-width="0.9"/>
<line x1="218.00" y1="33.60" x2="233.70" y2="33.60" stroke="#0000ff" stroke-width="2.5" stroke-dasharray="2.5 4.10"/>
<text x="244.00" y="37.00" font-size="9.80" text-anchor="start" textLength="65.80" lengthAdjust="spacingAndGlyphs" fill="#262626" stroke="#262626" stroke-width="0.12">NN: 2+7(5)+1</text>
<line x1="217.50" y1="46.18" x2="236.80" y2="46.18" stroke="#ff0000" stroke-width="2.0" stroke-dasharray="7.2 3.0"/>
<text x="244.00" y="49.58" font-size="9.80" text-anchor="start" textLength="71.60" lengthAdjust="spacingAndGlyphs" fill="#262626" stroke="#262626" stroke-width="0.12">NN: 2+10(5)+1</text>
<line x1="217.50" y1="58.76" x2="236.80" y2="58.76" stroke="#000000" stroke-width="1.7"/>
<text x="244.00" y="62.16" font-size="9.80" text-anchor="start" textLength="71.60" lengthAdjust="spacingAndGlyphs" fill="#262626" stroke="#262626" stroke-width="0.12">NN: 2+25(5)+1</text>
<line x1="217.50" y1="71.34" x2="236.80" y2="71.34" stroke="#1f77b4" stroke-width="1.7"/>
<text x="244.00" y="74.74" font-size="9.80" text-anchor="start" textLength="71.60" lengthAdjust="spacingAndGlyphs" fill="#262626" stroke="#262626" stroke-width="0.12">NN: 2+50(5)+1</text>
<line x1="217.50" y1="83.92" x2="236.80" y2="83.92" stroke="#ff7f0e" stroke-width="1.7"/>
<text x="244.00" y="87.32" font-size="9.80" text-anchor="start" textLength="71.60" lengthAdjust="spacingAndGlyphs" fill="#262626" stroke="#262626" stroke-width="0.12">NN: 2+80(5)+1</text>
<line x1="217.50" y1="96.50" x2="236.80" y2="96.50" stroke="#0000ff" stroke-width="1.7"/>
<text x="244.00" y="99.90" font-size="9.80" text-anchor="start" textLength="77.40" lengthAdjust="spacingAndGlyphs" fill="#262626" stroke="#262626" stroke-width="0.12">NN: 2+100(5)+1</text>
<line x1="218.30" y1="109.48" x2="235.30" y2="109.48" stroke="#000000" stroke-width="2.0" stroke-dasharray="2.0 3.0"/>
<text x="244.00" y="112.48" font-size="9.80" text-anchor="start" textLength="77.40" lengthAdjust="spacingAndGlyphs" fill="#262626" stroke="#262626" stroke-width="0.12">NN: 2+120(5)+1</text>
<rect x="574.50" y="27.00" width="104.70" height="90.20" rx="2" ry="2" fill="#fff" fill-opacity="0.8" stroke="#cccccc" stroke-width="0.9"/>
<line x1="577.80" y1="33.60" x2="592.90" y2="33.60" stroke="#0000ff" stroke-width="2.5" stroke-dasharray="2.5 3.80"/>
<text x="603.60" y="37.00" font-size="9.80" text-anchor="start" textLength="67.40" lengthAdjust="spacingAndGlyphs" fill="#262626" stroke="#262626" stroke-width="0.12">1-Hidden layer</text>
<line x1="577.00" y1="46.25" x2="596.60" y2="46.25" stroke="#ff0000" stroke-width="1.8"/>
<text x="603.60" y="49.65" font-size="9.80" text-anchor="start" textLength="71.30" lengthAdjust="spacingAndGlyphs" fill="#262626" stroke="#262626" stroke-width="0.12">2-Hidden layers</text>
<line x1="577.00" y1="58.90" x2="596.60" y2="58.90" stroke="#000000" stroke-width="1.7"/>
<text x="603.60" y="62.30" font-size="9.80" text-anchor="start" textLength="71.30" lengthAdjust="spacingAndGlyphs" fill="#262626" stroke="#262626" stroke-width="0.12">3-Hidden layers</text>
<line x1="577.00" y1="71.55" x2="596.60" y2="71.55" stroke="#1f77b4" stroke-width="1.7"/>
<text x="603.60" y="74.95" font-size="9.80" text-anchor="start" textLength="71.30" lengthAdjust="spacingAndGlyphs" fill="#262626" stroke="#262626" stroke-width="0.12">4-Hidden layers</text>
<line x1="577.00" y1="84.20" x2="596.60" y2="84.20" stroke="#0000ff" stroke-width="1.7"/>
<text x="603.60" y="87.60" font-size="9.80" text-anchor="start" textLength="71.30" lengthAdjust="spacingAndGlyphs" fill="#262626" stroke="#262626" stroke-width="0.12">5-Hidden layers</text>
<circle cx="586.80" cy="96.85" r="1.1" fill="#ff0000"/>
<text x="603.60" y="100.25" font-size="9.80" text-anchor="start" textLength="71.30" lengthAdjust="spacingAndGlyphs" fill="#262626" stroke="#262626" stroke-width="0.12">6-Hidden layers</text>
<line x1="577.80" y1="109.50" x2="592.90" y2="109.50" stroke="#000000" stroke-width="2.5" stroke-dasharray="2.5 3.80"/>
<text x="603.60" y="112.90" font-size="9.80" text-anchor="start" textLength="67.40" lengthAdjust="spacingAndGlyphs" fill="#262626" stroke="#262626" stroke-width="0.12">7-Hidden layer</text>
<g font-family="'Liberation Sans', sans-serif" fill="#262626" stroke="#262626" stroke-width="0.12">
<text x="179.00" y="8.60" font-size="11.30" text-anchor="middle" textLength="254.50" lengthAdjust="spacingAndGlyphs" >Plots of absolute errors for different networks</text>
<text x="535.90" y="8.70" font-size="11.00" text-anchor="middle" textLength="273.00" lengthAdjust="spacingAndGlyphs" >Plots of absolute errors for different hidden layers</text>
<text x="41.60" y="240.80" font-size="10.10" text-anchor="middle" textLength="21.49" lengthAdjust="spacingAndGlyphs" >−2.0</text>
<text x="75.99" y="240.80" font-size="10.10" text-anchor="middle" textLength="21.49" lengthAdjust="spacingAndGlyphs" >−1.5</text>
<text x="110.38" y="240.80" font-size="10.10" text-anchor="middle" textLength="21.49" lengthAdjust="spacingAndGlyphs" >−1.0</text>
<text x="144.77" y="240.80" font-size="10.10" text-anchor="middle" textLength="21.49" lengthAdjust="spacingAndGlyphs" >−0.5</text>
<text x="179.16" y="240.80" font-size="10.10" text-anchor="middle" textLength="14.07" lengthAdjust="spacingAndGlyphs" >0.0</text>
<text x="213.55" y="240.80" font-size="10.10" text-anchor="middle" textLength="14.07" lengthAdjust="spacingAndGlyphs" >0.5</text>
<text x="247.94" y="240.80" font-size="10.10" text-anchor="middle" textLength="14.07" lengthAdjust="spacingAndGlyphs" >1.0</text>
<text x="282.33" y="240.80" font-size="10.10" text-anchor="middle" textLength="14.07" lengthAdjust="spacingAndGlyphs" >1.5</text>
<text x="316.72" y="240.80" font-size="10.10" text-anchor="middle" textLength="14.07" lengthAdjust="spacingAndGlyphs" >2.0</text>
<text x="401.50" y="240.80" font-size="10.10" text-anchor="middle" textLength="21.49" lengthAdjust="spacingAndGlyphs" >−2.0</text>
<text x="435.10" y="240.80" font-size="10.10" text-anchor="middle" textLength="21.49" lengthAdjust="spacingAndGlyphs" >−1.5</text>
<text x="468.70" y="240.80" font-size="10.10" text-anchor="middle" textLength="21.49" lengthAdjust="spacingAndGlyphs" >−1.0</text>
<text x="502.30" y="240.80" font-size="10.10" text-anchor="middle" textLength="21.49" lengthAdjust="spacingAndGlyphs" >−0.5</text>
<text x="535.90" y="240.80" font-size="10.10" text-anchor="middle" textLength="14.07" lengthAdjust="spacingAndGlyphs" >0.0</text>
<text x="569.50" y="240.80" font-size="10.10" text-anchor="middle" textLength="14.07" lengthAdjust="spacingAndGlyphs" >0.5</text>
<text x="603.10" y="240.80" font-size="10.10" text-anchor="middle" textLength="14.07" lengthAdjust="spacingAndGlyphs" >1.0</text>
<text x="636.70" y="240.80" font-size="10.10" text-anchor="middle" textLength="14.07" lengthAdjust="spacingAndGlyphs" >1.5</text>
<text x="670.30" y="240.80" font-size="10.10" text-anchor="middle" textLength="14.07" lengthAdjust="spacingAndGlyphs" >2.0</text>
<text x="21.80" y="220.90" font-size="10.10" text-anchor="end" textLength="5.63" lengthAdjust="spacingAndGlyphs" >0</text>
<text x="21.80" y="194.39" font-size="10.10" text-anchor="end" textLength="5.63" lengthAdjust="spacingAndGlyphs" >1</text>
<text x="21.80" y="167.88" font-size="10.10" text-anchor="end" textLength="5.63" lengthAdjust="spacingAndGlyphs" >2</text>
<text x="21.80" y="141.37" font-size="10.10" text-anchor="end" textLength="5.63" lengthAdjust="spacingAndGlyphs" >3</text>
<text x="21.80" y="114.86" font-size="10.10" text-anchor="end" textLength="5.63" lengthAdjust="spacingAndGlyphs" >4</text>
<text x="21.80" y="88.35" font-size="10.10" text-anchor="end" textLength="5.63" lengthAdjust="spacingAndGlyphs" >5</text>
<text x="21.80" y="61.84" font-size="10.10" text-anchor="end" textLength="5.63" lengthAdjust="spacingAndGlyphs" >6</text>
<text x="21.80" y="35.33" font-size="10.10" text-anchor="end" textLength="5.63" lengthAdjust="spacingAndGlyphs" >7</text>
<text x="382.00" y="221.80" font-size="10.10" text-anchor="end" textLength="14.07" lengthAdjust="spacingAndGlyphs" >0.0</text>
<text x="382.00" y="178.75" font-size="10.10" text-anchor="end" textLength="14.07" lengthAdjust="spacingAndGlyphs" >0.5</text>
<text x="382.00" y="135.70" font-size="10.10" text-anchor="end" textLength="14.07" lengthAdjust="spacingAndGlyphs" >1.0</text>
<text x="382.00" y="92.65" font-size="10.10" text-anchor="end" textLength="14.07" lengthAdjust="spacingAndGlyphs" >1.5</text>
<text x="382.00" y="49.60" font-size="10.10" text-anchor="end" textLength="14.07" lengthAdjust="spacingAndGlyphs" >2.0</text>
<text x="27.40" y="20.30" font-size="11.20" text-anchor="start" textLength="24.80" lengthAdjust="spacingAndGlyphs" >1e−5</text>
<text x="387.80" y="20.30" font-size="11.20" text-anchor="start" textLength="24.40" lengthAdjust="spacingAndGlyphs" >1e−4</text>
<text transform="translate(8.9,126.4) rotate(-90)" font-size="11.4" text-anchor="middle">u(x,t)</text>
<text transform="translate(361.9,126.8) rotate(-90)" font-size="11.4" text-anchor="middle">u(x,t)</text>
<text x="178.20" y="253.20" font-size="10.50" text-anchor="middle" font-style="italic">x</text>
<text x="535.80" y="253.20" font-size="10.30" text-anchor="middle" font-style="italic">x</text>
</g>
<g font-family="'Liberation Serif', serif" fill="#000">
<text x="161.90" y="282.20" font-size="16.50" text-anchor="start" >(</text>
<text x="167.50" y="282.20" font-size="14.50" text-anchor="start" >a</text>
<text x="174.80" y="282.20" font-size="16.50" text-anchor="start" >)</text>
<text x="514.20" y="282.20" font-size="16.50" text-anchor="start" >(</text>
<text x="520.20" y="282.20" font-size="14.50" text-anchor="start" >b</text>
<text x="527.90" y="282.20" font-size="16.50" text-anchor="start" >)</text>
</g>
</svg>
</body></html>
